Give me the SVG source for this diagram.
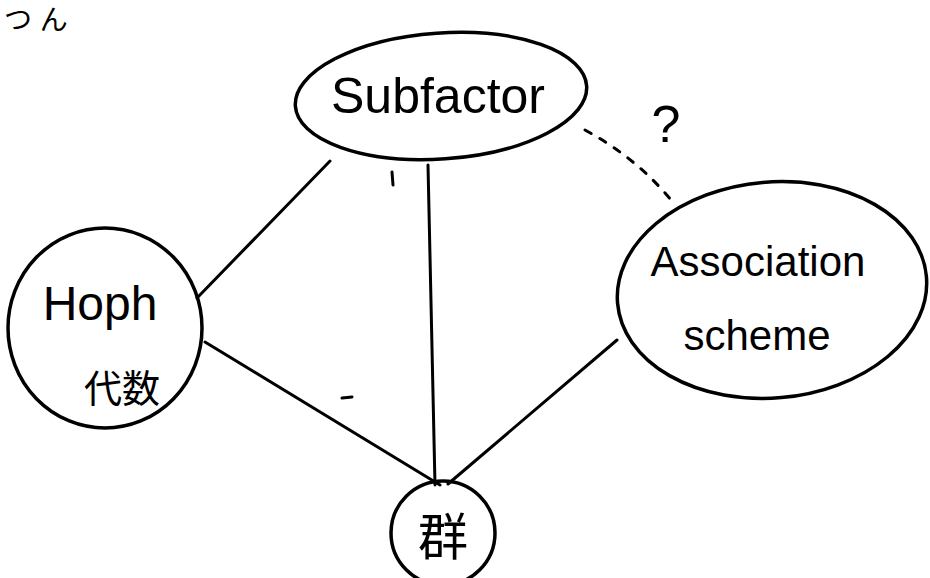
<svg xmlns="http://www.w3.org/2000/svg" width="930" height="578" viewBox="0 0 930 578">
<style>
.n{fill:none;stroke:#000;stroke-width:3.5;stroke-linecap:round}
.c{fill:none;stroke:#000;stroke-width:3;stroke-linecap:round}
.d{fill:none;stroke:#000;stroke-width:3;stroke-dasharray:7 10;stroke-linecap:round}
.t{font-family:"Liberation Sans","Noto Sans CJK JP",sans-serif;fill:#000}
</style>
<rect width="930" height="578" fill="#fff"/>
<text class="t" x="4" y="30" font-size="28">つ ん</text>
<g id="connectors">
<path class="c" d="M330,161 L197,298"/>
<path class="c" d="M428,165 Q431,330 435,485"/>
<path class="c" d="M205,342 L440,485"/>
<path class="c" d="M617,340 L448,484"/>
<path class="d" d="M585,130 Q640,160 675,205"/>
<path class="c" d="M392,172 L393,185"/>
<path class="c" d="M342,398 L352,397"/>
</g>
<g id="subfactor">
<ellipse class="n" cx="441" cy="96" rx="146" ry="63" transform="rotate(-4 441 96)"/>
<text class="t" x="438" y="113" font-size="50" text-anchor="middle">Subfactor</text>
</g>
<g id="question">
<text class="t" x="666" y="142" font-size="52" text-anchor="middle">?</text>
</g>
<g id="hopf">
<ellipse class="n" cx="105" cy="328" rx="97" ry="100"/>
<text class="t" x="100" y="320" font-size="48" text-anchor="middle">Hoph</text>
<text class="t" x="122" y="402" font-size="38" text-anchor="middle">代数</text>
</g>
<g id="association">
<ellipse class="n" cx="772" cy="290" rx="155" ry="108" transform="rotate(-5 772 290)"/>
<text class="t" x="758" y="276" font-size="42" text-anchor="middle">Association</text>
<text class="t" x="757" y="350" font-size="42" text-anchor="middle">scheme</text>
</g>
<g id="group">
<ellipse class="n" cx="443" cy="533" rx="52" ry="52"/>
<text class="t" x="443" y="555" font-size="50" text-anchor="middle">群</text>
</g>
</svg>
